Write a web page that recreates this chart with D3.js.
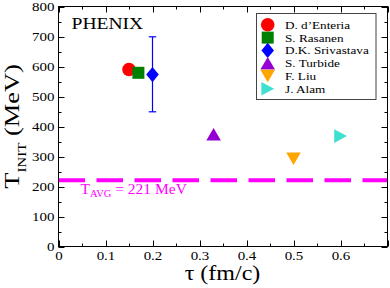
<!DOCTYPE html>
<html><head><meta charset="utf-8">
<script src="https://cdn.jsdelivr.net/npm/d3@7"></script>
<style>body{margin:0;background:#fff;} svg{display:block;}</style>
</head><body><svg id="c" width="390" height="288"></svg>
<script>
const authors = ["D. d\u2019Enteria","S. Rasanen","D.K. Srivastava","S. Turbide","F. Liu","J. Alam"];
const tauValues = [0.15, 0.17, 0.2, 0.33, 0.5, 0.6];
const tempValues = [590, 579, 573, 374, 293, 368];
const errLow = [null, null, 449, null, null, null];
const errHigh = [null, null, 699, null, null, null];
const symbols = ["circle","square","diamond","triangle","triangleDown","triangleRight"];
const colors = ["#ff0000","#008000","#0000ff","#9400d3","#ffa500","#40e0d0"];
const xTicks = [0,0.1,0.2,0.3,0.4,0.5,0.6];
const yTicks = [0,100,200,300,400,500,600,700,800];
const avgT = 221;

const FONT = "'Liberation Serif','Times New Roman',Times,serif";
const SX = 1.2;
const svg = d3.select("#c");
const L=58.5,R=387.5,T=6.5,B=246.5;
const x = d3.scaleLinear().domain([0,0.7]).range([L,R]);
const y = d3.scaleLinear().domain([0,800]).range([B,T]);

function label(parent,px,py,size,extra){
  return parent.append("text").attr("transform",`translate(${px},${py}) ${extra||""} scale(${SX},1)`)
    .attr("font-size",size).attr("fill","#000").style("font-family",FONT);
}

function sym(g,type,cx,cy,color){
  let p;
  if(type==="circle") g.append("circle").attr("cx",cx).attr("cy",cy).attr("r",6.8).attr("fill",color);
  else if(type==="square") g.append("rect").attr("x",cx-6).attr("y",cy-6).attr("width",12).attr("height",12).attr("fill",color);
  else {
    if(type==="diamond") p=[[cx,cy-7.7],[cx+6.3,cy],[cx,cy+7.7],[cx-6.3,cy]];
    else if(type==="triangle") p=[[cx,cy-6.3],[cx+7.3,cy+6.2],[cx-7.3,cy+6.2]];
    else if(type==="triangleDown") p=[[cx,cy+6.3],[cx+7.3,cy-6.2],[cx-7.3,cy-6.2]];
    else p=[[cx+6.5,cy],[cx-6.3,cy-6.8],[cx-6.3,cy+6.8]];
    g.append("polygon").attr("points",p.map(d=>d.join(",")).join(" ")).attr("fill",color);
  }
}

// ticks on all sides
const xMinor = d3.range(0,0.7001,0.05);
const yMinor = d3.range(0,800.1,50);
const tg = svg.append("g").attr("stroke","#000").attr("stroke-width",1);
xMinor.forEach((v,i)=>{const len = (i%2===0)?6:3; const px=Math.round(x(v))+0.5;
  tg.append("line").attr("x1",px).attr("x2",px).attr("y1",B).attr("y2",B-len);
  tg.append("line").attr("x1",px).attr("x2",px).attr("y1",T).attr("y2",T+len);});
yMinor.forEach((v,i)=>{const len = (i%2===0)?6:3; const py=Math.round(y(v))+0.5;
  tg.append("line").attr("x1",L).attr("x2",L+len).attr("y1",py).attr("y2",py);
  tg.append("line").attr("x1",R).attr("x2",R-len).attr("y1",py).attr("y2",py);});

// tick labels via d3 axes
const xa = svg.append("g").attr("transform",`translate(0,${B})`).call(d3.axisBottom(x).tickValues(xTicks).tickSize(0).tickPadding(4.5).tickFormat(d=>d===0?"0":d3.format(".1f")(d)));
xa.attr("font-family",null).attr("font-size",null);
xa.select(".domain").remove();
xa.selectAll("text").attr("font-size",12.5).attr("fill","#000").style("font-family",FONT).attr("transform",`scale(${SX},1)`);
const ya = svg.append("g").attr("transform",`translate(${L},0)`).call(d3.axisLeft(y).tickValues(yTicks).tickSize(0).tickPadding(3.4));
ya.attr("font-family",null).attr("font-size",null);
ya.select(".domain").remove();
ya.selectAll("text").attr("font-size",12.5).attr("fill","#000").style("font-family",FONT).attr("transform",`scale(${SX},1)`);

// average dashed line
svg.append("line").attr("x1",L).attr("x2",R).attr("y1",y(avgT)).attr("y2",y(avgT))
  .attr("stroke","#ff00ff").attr("stroke-width",4).attr("stroke-dasharray","26.5,11.5");
const at = svg.append("text").attr("x",80.5).attr("y",193.5).attr("fill","#ff00ff").attr("font-size",15.5).style("font-family",FONT);
at.append("tspan").text("T");
at.append("tspan").attr("dy",3).attr("font-size",10.5).text("AVG");
at.append("tspan").attr("dy",-3).text(" = 221 MeV");

// error bars
const eg = svg.append("g");
tauValues.forEach((t,i)=>{ if(errLow[i]==null) return;
  const px=x(t);
  eg.append("line").attr("x1",px).attr("x2",px).attr("y1",y(errLow[i])).attr("y2",y(errHigh[i])).attr("stroke",colors[i]).attr("stroke-width",1.2);
  [errLow[i],errHigh[i]].forEach(v=>eg.append("line").attr("x1",px-3.7).attr("x2",px+3.7).attr("y1",y(v)).attr("y2",y(v)).attr("stroke",colors[i]).attr("stroke-width",1.2));
});
// points
const pg = svg.append("g");
tauValues.forEach((t,i)=>sym(pg,symbols[i],x(t),y(tempValues[i]),colors[i]));

// frame
svg.append("rect").attr("x",L).attr("y",T).attr("width",R-L).attr("height",B-T).attr("fill","none").attr("stroke","#000").attr("stroke-width",1);

// PHENIX
label(svg,71.5,29.3,16.3).text("PHENIX");

// legend
const lg = svg.append("g");
lg.append("rect").attr("x",256.5).attr("y",13.5).attr("width",119.5).attr("height",86).attr("fill","#fff").attr("stroke","#444").attr("stroke-width",1);
authors.forEach((a,i)=>{
  const cy = 24.8 + i*12.8;
  sym(lg,symbols[i],267.7,cy,colors[i]);
  label(lg,285,cy+4,11).text(a);
});

// axis titles
label(svg,222.5,280,20).attr("text-anchor","middle").text("\u03c4 (fm/c)");
const yt = label(svg,19,126.5,22,"rotate(-90)").attr("text-anchor","middle");
yt.append("tspan").text("T");
yt.append("tspan").attr("dy",6.5).attr("font-size",12.5).text("INIT");
yt.append("tspan").attr("dy",-6.5).text(" (MeV)");
</script></body></html>
